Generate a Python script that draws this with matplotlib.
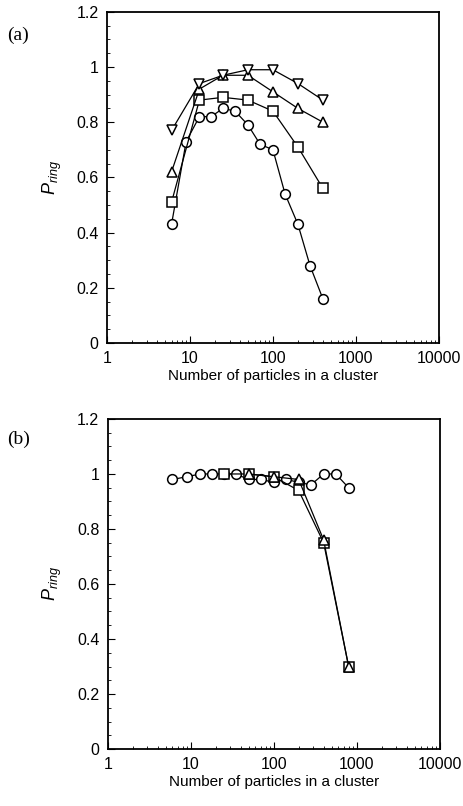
import numpy as np
import matplotlib
matplotlib.use("Agg")
import matplotlib.pyplot as plt
from matplotlib.ticker import LogLocator, FixedLocator, MultipleLocator, FuncFormatter

plt.rcParams['font.family'] = ['Liberation Sans', 'DejaVu Sans']
plt.rcParams['mathtext.fontset'] = 'custom'
plt.rcParams['mathtext.it'] = 'Liberation Sans:italic'
plt.rcParams['mathtext.rm'] = 'Liberation Sans'

# panel (a)
a_circ_x = [6, 9, 13, 18, 25, 35, 50, 70, 100, 140, 200, 280, 400]
a_circ_y = [0.43, 0.73, 0.82, 0.82, 0.85, 0.84, 0.79, 0.72, 0.70, 0.54, 0.43, 0.28, 0.16]
a_sq_x = [6, 13, 25, 50, 100, 200, 400]
a_sq_y = [0.51, 0.88, 0.89, 0.88, 0.84, 0.71, 0.56]
a_up_x = [6, 13, 25, 50, 100, 200, 400]
a_up_y = [0.62, 0.92, 0.97, 0.97, 0.91, 0.85, 0.80]
a_dn_x = [6, 13, 25, 50, 100, 200, 400]
a_dn_y = [0.77, 0.94, 0.97, 0.99, 0.99, 0.94, 0.88]

# panel (b)
b_circ_x = [6, 9, 13, 18, 25, 35, 50, 70, 100, 140, 200, 280, 400, 560, 800]
b_circ_y = [0.98, 0.99, 1.0, 1.0, 1.0, 1.0, 0.98, 0.98, 0.97, 0.98, 0.97, 0.96, 1.0, 1.0, 0.95]
b_sq_x = [25, 50, 100, 200, 400, 800]
b_sq_y = [1.0, 1.0, 0.99, 0.94, 0.75, 0.30]
b_up_x = [50, 100, 200, 400, 800]
b_up_y = [1.0, 0.99, 0.98, 0.76, 0.30]

yticks = [0, 0.2, 0.4, 0.6, 0.8, 1.0, 1.2]
xticks = [1, 10, 100, 1000, 10000]

fig = plt.figure(figsize=(4.63, 8.06), dpi=100)
ax1 = fig.add_axes([0.231, 0.5744, 0.717, 0.411])
ax2 = fig.add_axes([0.2326, 0.0707, 0.717, 0.4095])

mk = dict(color='black', markerfacecolor='white', markeredgecolor='black',
          markersize=7, linewidth=0.9, markeredgewidth=1.1)

ax1.plot(a_circ_x, a_circ_y, marker='o', **mk)
ax1.plot(a_sq_x, a_sq_y, marker='s', **mk)
ax1.plot(a_up_x, a_up_y, marker='^', **mk)
ax1.plot(a_dn_x, a_dn_y, marker='v', **mk)

ax2.plot(b_circ_x, b_circ_y, marker='o', **mk)
ax2.plot(b_sq_x, b_sq_y, marker='s', **mk)
ax2.plot(b_up_x, b_up_y, marker='^', **mk)


def fmt_y(v, pos):
    if abs(v - round(v)) < 1e-9:
        return '%d' % round(v)
    return '%g' % v


for ax, lab, ly in [(ax1, '(a)', 0.950), (ax2, '(b)', 0.449)]:
    ax.set_xscale('log')
    ax.set_xlim(1, 10000)
    ax.set_ylim(0, 1.2)
    ax.xaxis.set_major_locator(FixedLocator(xticks))
    ax.xaxis.set_minor_locator(LogLocator(base=10, subs=np.arange(2, 10)))
    ax.xaxis.set_major_formatter(FuncFormatter(lambda v, p: '%d' % v))
    ax.yaxis.set_major_locator(FixedLocator(yticks))
    ax.yaxis.set_minor_locator(MultipleLocator(0.05))
    ax.yaxis.set_major_formatter(FuncFormatter(fmt_y))
    ax.tick_params(which='major', direction='in', length=5, width=0.8, labelsize=11.5, pad=6)
    ax.tick_params(which='minor', direction='in', length=2.5, width=0.6)
    for s in ax.spines.values():
        s.set_linewidth(1.3)
    ax.set_xlabel('Number of particles in a cluster', fontsize=11, labelpad=2)
    ax.set_ylabel(r'$P_{ring}$', fontsize=13, labelpad=9)
    fig.text(0.015, ly, lab, fontsize=14, family='Liberation Serif')

fig.savefig('out.png', dpi=100)
